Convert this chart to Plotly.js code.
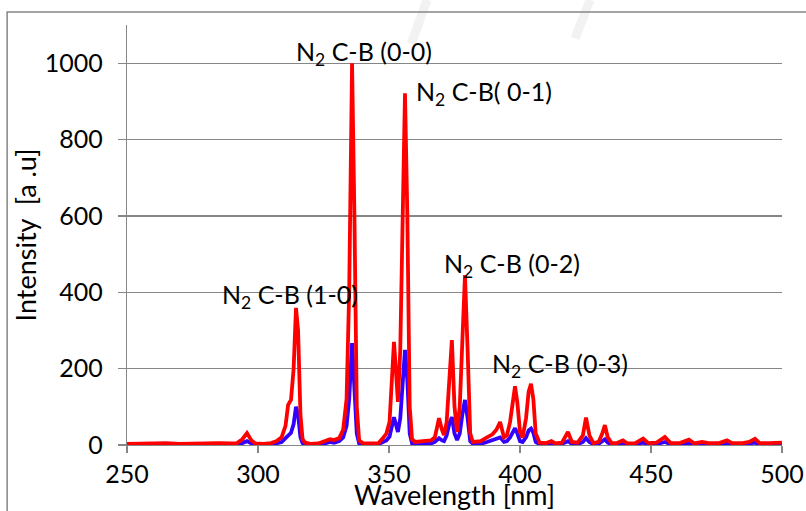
<!DOCTYPE html>
<html>
<head>
<meta charset="utf-8">
<script src="https://cdn.plot.ly/plotly-3.0.1.min.js"></script>
<style>
html,body{margin:0;padding:0;background:#fff;}
#chart{width:806px;height:511px;}
</style>
</head>
<body>
<div id="chart"></div>
<script>
// Wavelength (nm)
const wavelength = [250,255,260,265,270,275,280,285,290,292,294,295.8,297.5,299,302,305,307,309,310.5,311.5,312.6,313.6,314.5,315.3,316.2,317,318,320,323,325,327.5,329,331,332.5,333.8,334.8,335.9,336.8,337.7,338.6,340,343,346,347.7,349,350.2,351,351.9,352.6,353.4,354.3,355.2,356.1,357,357.9,358.8,360,363,366,367.5,369.1,370.2,371,372,373,374,375,376,377,378,379,380,381,382,385,387.4,389.5,391,392.4,393.9,395,396.2,397.2,398.1,399,400,401,402.3,403.3,404.2,405.1,406,407.5,410,412,413.5,416,418.3,419.8,422,424,425.2,426.5,428,430,431.4,432.4,433.5,435,437,439.3,441,444,447,449,452,455.3,457.5,461,464.5,466.5,469.5,472,476,479,481,485,487.5,489.7,491.5,495,500];
// Red series intensity (a.u.)
const redSeries = [3,4,3,5,3,4,4,5,4,5,15,31,12,4,3,5,10,20,50,105,118,200,359,300,80,15,6,3,4,8,15,13,18,40,120,400,1000,600,100,12,5,4,5,18,30,60,180,270,200,113,250,650,921,600,100,15,8,10,12,20,70,40,26,60,180,275,100,34,100,300,445,250,30,8,10,20,28,40,60,20,25,60,120,154,110,35,20,70,140,160,120,30,6,5,10,4,6,34,8,6,25,72,25,5,8,30,52,20,5,5,12,4,5,17,5,6,21,5,5,14,4,8,5,5,12,5,5,8,16,5,5,6];
// Blue series intensity (a.u.)
const blueSeries = [1,2,1,2,1,2,2,2,2,2,5,10,4,1,1,2,4,8,18,25,32,55,100,80,20,5,2,1,2,3,8,6,10,20,50,120,267,150,30,4,2,1,2,8,12,22,45,73,55,34,70,180,249,170,30,4,2,3,4,8,18,12,10,25,55,73,30,13,30,80,118,70,10,3,3,8,12,15,20,8,10,20,35,44,30,10,8,20,38,43,32,8,2,2,4,1,3,10,3,2,8,18,8,2,3,10,15,6,2,2,4,1,2,6,2,2,8,2,2,5,1,3,2,2,4,2,2,3,6,2,2,2];

const xTicks = [250,300,350,400,450,500];
const yTicks = [0,200,400,600,800,1000];

const annoText = ['N<sub>2</sub> C-B (0-0)','N<sub>2</sub> C-B( 0-1)','N<sub>2</sub> C-B (0-2)','N<sub>2</sub> C-B (1-0)','N<sub>2</sub> C-B (0-3)'];
const annoX = [340.5,386.3,397,312.2,415.3];
const annoY = [1026,921,471,390,209];

const FONT = 'Lato, Carlito, "Open Sans", sans-serif';

const traces = [
  {x: wavelength, y: blueSeries, type:'scatter', mode:'lines', line:{color:'#3300ff', width:3.8}, hoverinfo:'skip'},
  {x: wavelength, y: redSeries, type:'scatter', mode:'lines', line:{color:'#ff0000', width:3.8}, hoverinfo:'skip'}
];

const annotations = annoText.map((t,i)=>({
  x: annoX[i], y: annoY[i], xref:'x', yref:'y', text:t, showarrow:false,
  font:{family:FONT, size:25, color:'#000'}, xanchor:'center', yanchor:'middle'
}));

const layout = {
  width:806, height:511,
  margin:{l:127, r:24, t:25, b:66},
  paper_bgcolor:'#fff', plot_bgcolor:'#fff',
  showlegend:false,
  font:{family:FONT, size:25, color:'#000'},
  xaxis:{
    range:[250,500], tickvals:xTicks, ticktext:xTicks.map(String),
    showgrid:false, zeroline:false, showline:true, linecolor:'#868686', linewidth:1.2,
    ticks:'outside', ticklen:7, tickcolor:'#868686', tickwidth:1.2,
    tickfont:{family:FONT, size:25, color:'#000'},
    title:{text:'Wavelength [nm]', font:{family:FONT, size:27, color:'#000'}, standoff:0}
  },
  yaxis:{
    range:[0,1100], tickvals:yTicks, ticktext:yTicks.map(String),
    showgrid:true, gridcolor:'#868686', gridwidth:1.2, zeroline:false,
    showline:true, linecolor:'#868686', linewidth:1.2,
    ticks:'outside', ticklen:8, tickcolor:'#868686', tickwidth:1.2,
    ticklabelstandoff:10,
    tickfont:{family:FONT, size:25, color:'#000'},
    title:{text:'Intensity  [a .u]', font:{family:FONT, size:27, color:'#000'}, standoff:0}
  },
  annotations: annotations,
  shapes:[
    {type:'line', xref:'paper', yref:'paper', x0:0.458, y0:1.06, x1:0.434, y1:0.955, line:{color:'#f2f2f2', width:9}, layer:'below'},
    {type:'line', xref:'paper', yref:'paper', x0:0.707, y0:1.06, x1:0.684, y1:0.968, line:{color:'#f2f2f2', width:9}, layer:'below'},
    {type:'rect', xref:'paper', yref:'paper', x0:-0.183, y0:-0.21, x1:1.08, y1:1.031, line:{color:'#868686', width:1.5}, fillcolor:'rgba(0,0,0,0)', layer:'above'}
  ]
};

Plotly.newPlot('chart', traces, layout, {staticPlot:true, displayModeBar:false});
</script>
</body>
</html>
